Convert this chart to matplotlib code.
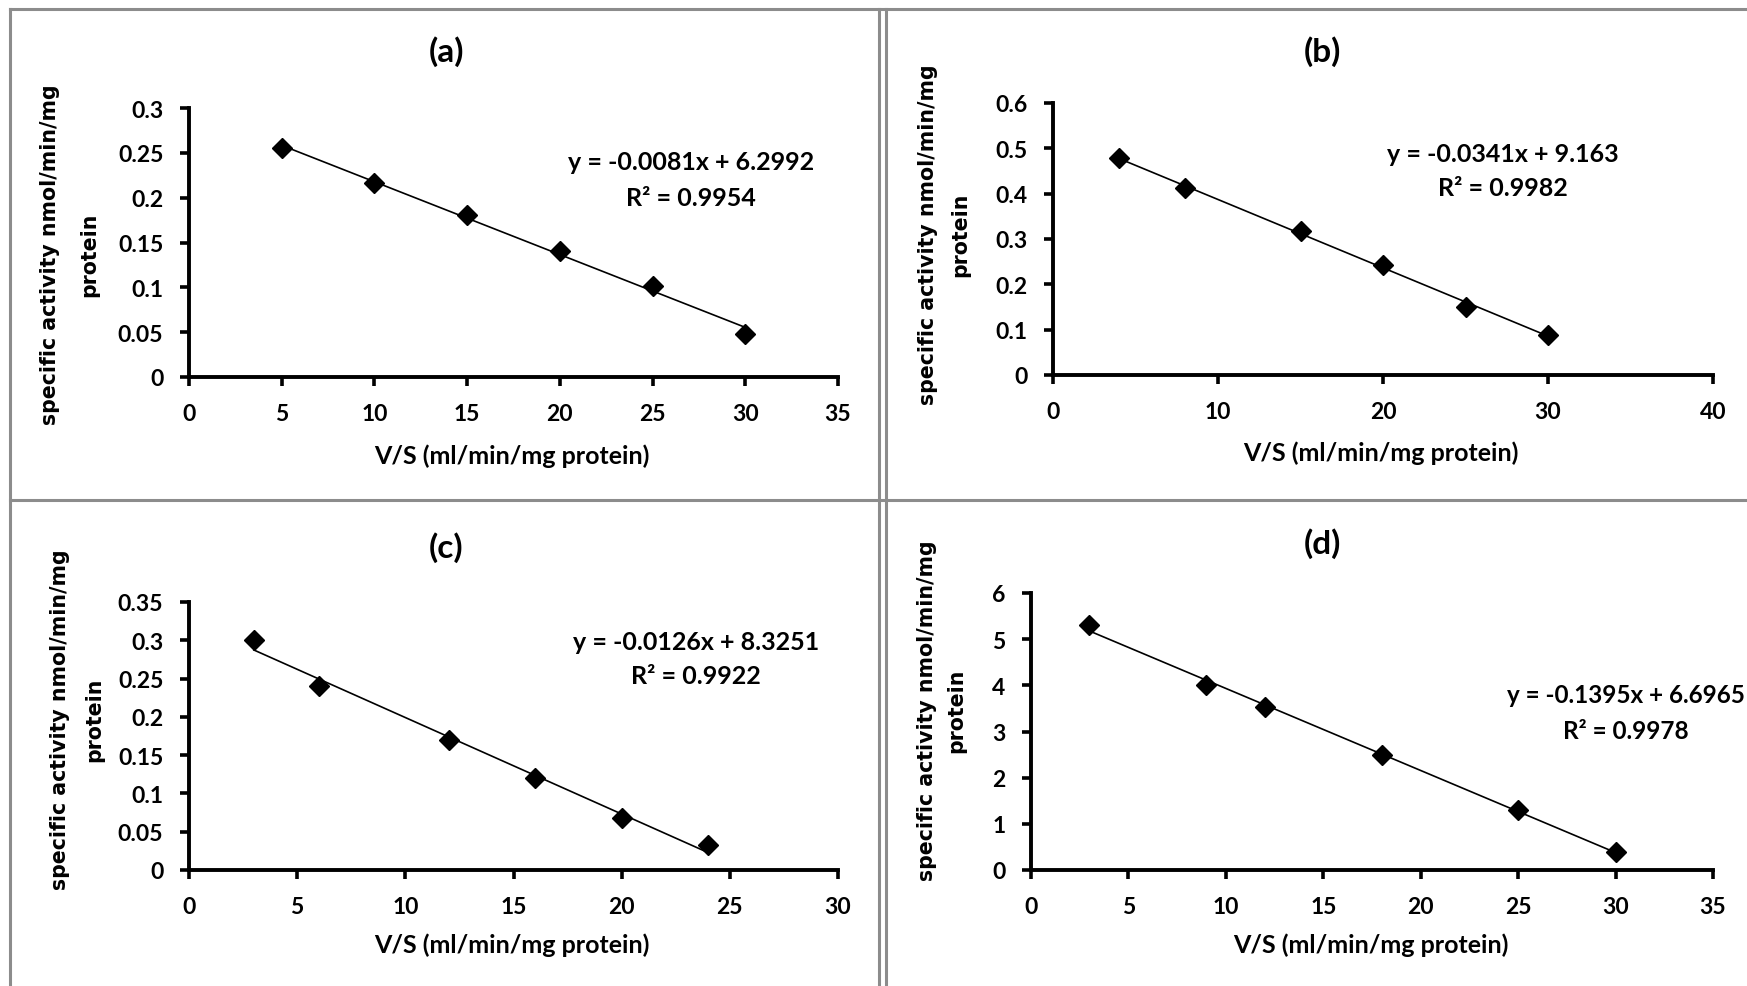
import matplotlib
matplotlib.use("Agg")
import matplotlib.pyplot as plt
from matplotlib.lines import Line2D
from matplotlib.ticker import FuncFormatter, MultipleLocator
import numpy as np

# data
labels = ["(a)", "(b)", "(c)", "(d)"]

x_a = [5, 10, 15, 20, 25, 30]
y_a = [0.255, 0.216, 0.181, 0.140, 0.101, 0.048]

x_b = [4, 8, 15, 20, 25, 30]
y_b = [0.478, 0.413, 0.317, 0.242, 0.151, 0.089]

x_c = [3, 6, 12, 16, 20, 24]
y_c = [0.300, 0.240, 0.170, 0.120, 0.068, 0.032]

x_d = [3, 9, 12, 18, 25, 30]
y_d = [5.3, 4.0, 3.52, 2.5, 1.3, 0.4]

equations = ["y = -0.0081x + 6.2992", "y = -0.0341x + 9.163",
             "y = -0.0126x + 8.3251", "y = -0.1395x + 6.6965"]
r_squared = ["R\u00b2 = 0.9954", "R\u00b2 = 0.9982", "R\u00b2 = 0.9922", "R\u00b2 = 0.9978"]

x_label = "V/S (ml/min/mg protein)"
y_label_lines = ["specific activity nmol/min/mg", "protein"]

W, H = 1747, 987
fig = plt.figure(figsize=(W / 100, H / 100), dpi=100)

# axes boxes in pixels: left, right, top, bottom
boxes = [(189, 838, 109, 378), (1053, 1713, 104, 376),
         (189, 838, 603, 871), (1031, 1713, 594, 871)]
xlims = [(0, 35, 5), (0, 40, 10), (0, 30, 5), (0, 35, 5)]
ylims = [(0, 0.3, 0.05), (0, 0.6, 0.1), (0, 0.35, 0.05), (0, 6, 1)]
title_pos = [(446, 52), (1322, 52), (446, 548), (1322, 544)]
# equation: centre x, y of line 1, y of line 2
eq_pos = [(691, 163, 199), (1503, 154, 189), (696, 642, 677), (1626, 696, 732)]
xlab_pos = [(512, 456), (1381, 453), (512, 945), (1371, 945)]
ylab_pos = [(50, 89, 255), (928, 960, 235), (60, 94, 720), (927, 956, 711)]

series = [(x_a, y_a), (x_b, y_b), (x_c, y_c), (x_d, y_d)]

calibri = "Lato"


def fx(px):
    return px / W


def fy(py):
    return 1 - py / H


for i, (xs, ys) in enumerate(series):
    l, r, t, b = boxes[i]
    ax = fig.add_axes([fx(l), fy(b), (r - l) / W, (b - t) / H])
    xs = np.array(xs)
    ys = np.array(ys)

    slope, icpt = np.polyfit(xs, ys, 1)
    xx = np.array([xs.min(), xs.max()])
    ax.plot(xx, slope * xx + icpt, color="black", lw=1.2, zorder=2)
    ax.plot(xs, ys, "D", color="black", ms=10, zorder=3, clip_on=False)

    x0, x1, xs_step = xlims[i]
    y0, y1, ys_step = ylims[i]
    ax.set_xlim(x0, x1)
    ax.set_ylim(y0, y1)
    ax.xaxis.set_major_locator(MultipleLocator(xs_step))
    ax.yaxis.set_major_locator(MultipleLocator(ys_step))
    ax.yaxis.set_major_formatter(FuncFormatter(lambda v, p: f"{v:g}"))

    for s in ["top", "right"]:
        ax.spines[s].set_visible(False)
    for s in ["left", "bottom"]:
        ax.spines[s].set_linewidth(2.8)
    ax.tick_params(direction="out", length=6.5, width=2.6)
    ax.tick_params(axis="x", pad=12)
    ax.tick_params(axis="y", pad=12)
    for lab in ax.get_xticklabels() + ax.get_yticklabels():
        lab.set_fontfamily(calibri)
        lab.set_fontweight("bold")
        lab.set_fontsize(16.5)

    tx, ty = title_pos[i]
    fig.text(fx(tx), fy(ty), labels[i], ha="center", va="center",
             fontsize=24, fontweight="bold", family=calibri)

    ex, ey1, ey2 = eq_pos[i]
    eq_size = 18 if i < 3 else 17.5
    fig.text(fx(ex), fy(ey1), equations[i], ha="center", va="center",
             fontsize=eq_size, fontweight="bold", family=calibri)
    fig.text(fx(ex), fy(ey2), r_squared[i], ha="center", va="center",
             fontsize=eq_size, fontweight="bold", family=calibri)

    lx, ly = xlab_pos[i]
    fig.text(fx(lx), fy(ly), x_label, ha="center", va="center",
             fontsize=18, fontweight="bold", family=calibri)

    yx1, yx2, yy = ylab_pos[i]
    for yx, line in zip([yx1, yx2], y_label_lines):
        fig.text(fx(yx), fy(yy), line, ha="center", va="center", rotation=90,
                 fontsize=14.8, fontweight="bold", family="DejaVu Sans")

# grey panel frames
frame = dict(color="#8c8c8c", lw=2.2, transform=fig.transFigure)
fig.add_artist(Line2D([fx(10), fx(W)], [fy(10), fy(10)], **frame))
fig.add_artist(Line2D([fx(10), fx(10)], [fy(10), fy(H)], **frame))
fig.add_artist(Line2D([fx(10), fx(W)], [fy(501), fy(501)], **frame))
fig.add_artist(Line2D([fx(879), fx(879)], [fy(10), fy(H)], **frame))
fig.add_artist(Line2D([fx(886), fx(886)], [fy(10), fy(H)], **frame))

fig.savefig("out.png", dpi=100)
